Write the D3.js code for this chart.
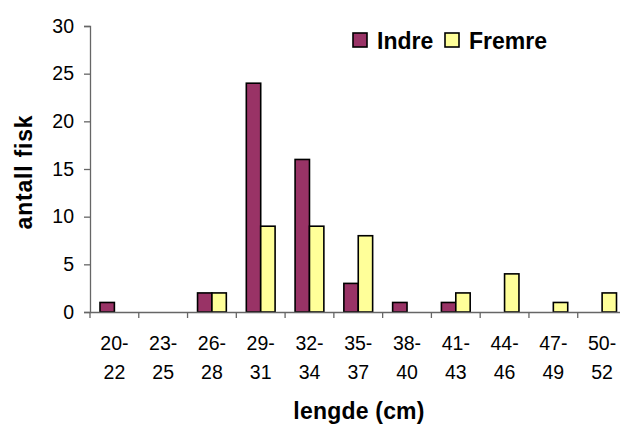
<!DOCTYPE html>
<html>
<head>
<meta charset="utf-8">
<script src="https://cdn.jsdelivr.net/npm/d3@7"></script>
<style>
  body { margin: 0; background: #fff; }
  svg { display: block; font-family: "Liberation Sans", Arial, sans-serif; }
</style>
</head>
<body>
<div id="chart"></div>
<script>
const categories = ["20-22", "23-25", "26-28", "29-31", "32-34", "35-37", "38-40", "41-43", "44-46", "47-49", "50-52"];
const indre = [1, 0, 2, 24, 16, 3, 1, 1, 0, 0, 0];
const fremre = [0, 0, 2, 9, 9, 8, 0, 2, 4, 1, 2];
const yTicks = [0, 5, 10, 15, 20, 25, 30];
const seriesNames = ["Indre", "Fremre"];
const colors = ["#993366", "#FFFF99"];

const totalWidth = 620, totalHeight = 427;
const margin = { top: 26, left: 90, bottom: 115 };
const plotW = 536.5; // plot runs off the right edge, like the original
const plotH = totalHeight - margin.top - margin.bottom;
const fontFam = "Liberation Sans, Arial, sans-serif";

const svg = d3.select("#chart").append("svg")
    .attr("width", totalWidth)
    .attr("height", totalHeight);

const g = svg.append("g")
    .attr("transform", `translate(${margin.left},${margin.top})`);

const x0 = d3.scaleBand()
    .domain(categories)
    .range([0, plotW])
    .paddingInner(0)
    .paddingOuter(0);

const x1 = d3.scaleBand()
    .domain(seriesNames)
    .range([10, x0.bandwidth() - 10]);

const y = d3.scaleLinear().domain([0, 30]).range([plotH, 0]);

const data = categories.map((c, i) => ({ cat: c, values: [indre[i], fremre[i]] }));

// bars
const groups = g.selectAll(".grp")
    .data(data)
    .enter().append("g")
    .attr("transform", d => `translate(${x0(d.cat)},0)`);

groups.selectAll("rect")
    .data(d => d.values.map((v, k) => ({ key: seriesNames[k], v, k })).filter(e => e.v > 0))
    .enter().append("rect")
    .attr("x", e => x1(e.key))
    .attr("y", e => y(e.v))
    .attr("width", x1.bandwidth())
    .attr("height", e => plotH - y(e.v))
    .attr("fill", e => colors[e.k])
    .attr("stroke", "#000")
    .attr("stroke-width", 1.6);

// y axis
const yAxis = g.append("g")
    .call(d3.axisLeft(y).tickValues(yTicks).tickSize(6).tickPadding(10));
yAxis.select(".domain").attr("stroke", "#666").attr("stroke-width", 1.3);
yAxis.selectAll(".tick line").attr("stroke", "#666").attr("stroke-width", 1.3);
yAxis.selectAll("text").attr("font-size", 19.5).attr("fill", "#000")
    .attr("font-family", fontFam);

// x axis
const xAxis = g.append("g")
    .attr("transform", `translate(0,${plotH})`)
    .call(d3.axisBottom(x0).tickSize(0).tickFormat(""));
xAxis.select(".domain").attr("stroke", "#666").attr("stroke-width", 1.3);

const tickPos = d3.range(categories.length + 1).map(i => i * x0.step());
xAxis.selectAll(".sep")
    .data(tickPos)
    .enter().append("line")
    .attr("x1", d => d).attr("x2", d => d)
    .attr("y1", 0).attr("y2", 6)
    .attr("stroke", "#666").attr("stroke-width", 1.3);

const xLabels = xAxis.selectAll(".xl")
    .data(categories)
    .enter().append("text")
    .attr("text-anchor", "middle")
    .attr("font-size", 19.5)
    .attr("font-family", fontFam)
    .attr("fill", "#000")
    .attr("transform", d => `translate(${x0(d) + x0.bandwidth() / 2},0)`);
xLabels.append("tspan").attr("x", 0).attr("y", 38).text(d => d.split("-")[0] + "-");
xLabels.append("tspan").attr("x", 0).attr("y", 67).text(d => d.split("-")[1]);

// axis titles
svg.append("text")
    .attr("x", 359).attr("y", 419)
    .attr("text-anchor", "middle")
    .attr("font-size", 23).attr("font-weight", "bold")
    .attr("letter-spacing", 0.2)
    .text("lengde (cm)");

svg.append("text")
    .attr("transform", `translate(32,172) rotate(-90)`)
    .attr("text-anchor", "middle")
    .attr("font-size", 23).attr("font-weight", "bold")
    .attr("letter-spacing", 0.8)
    .text("antall fisk");

// legend
const legendX = [353, 445];
const legend = svg.selectAll(".leg")
    .data(seriesNames)
    .enter().append("g")
    .attr("transform", (d, i) => `translate(${legendX[i]},33)`);
legend.append("rect")
    .attr("width", 14).attr("height", 14)
    .attr("fill", (d, i) => colors[i])
    .attr("stroke", "#000").attr("stroke-width", 1.6);
legend.append("text")
    .attr("x", 24).attr("y", 16)
    .attr("font-size", 23).attr("font-weight", "bold")
    .text(d => d);
</script>
</body>
</html>
